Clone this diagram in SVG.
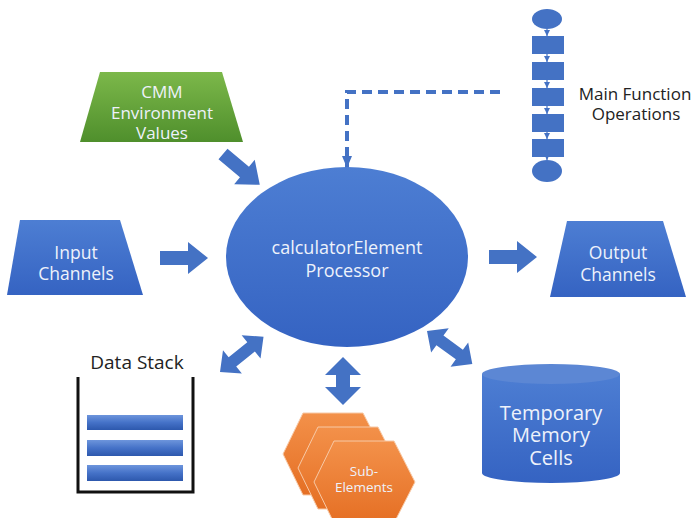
<svg xmlns="http://www.w3.org/2000/svg" width="696" height="518" viewBox="0 0 696 518">
<defs>
<linearGradient id="gBlue" x1="0" y1="0" x2="0" y2="1">
<stop offset="0" stop-color="#4d7ed3"/>
<stop offset="1" stop-color="#3563c2"/>
</linearGradient>
<linearGradient id="gGreen" x1="0" y1="0" x2="0" y2="1">
<stop offset="0" stop-color="#7cb84a"/>
<stop offset="1" stop-color="#4f8f2c"/>
</linearGradient>
<linearGradient id="gOrange" x1="0" y1="0" x2="0" y2="1">
<stop offset="0" stop-color="#f3914a"/>
<stop offset="1" stop-color="#e56f24"/>
</linearGradient>
<linearGradient id="gBar" x1="0" y1="0" x2="0" y2="1">
<stop offset="0" stop-color="#6d95dc"/>
<stop offset="0.5" stop-color="#4572c8"/>
<stop offset="1" stop-color="#2d58ad"/>
</linearGradient>
<marker id="mDash" viewBox="0 0 12 10" refX="12" refY="5" markerWidth="12" markerHeight="10" markerUnits="userSpaceOnUse" orient="auto">
<path d="M0,0 L12,5 L0,10 Z" fill="#4472c4"/>
</marker>
<marker id="mSmall" viewBox="0 0 6 6" refX="6" refY="3" markerWidth="6" markerHeight="6" markerUnits="userSpaceOnUse" orient="auto">
<path d="M0,0 L6,3 L0,6 Z" fill="#4472c4"/>
</marker>
<path id="arrow1" d="M0,-7 H28 V-16 L48,0 L28,16 V7 H0 Z"/>
<polygon id="hex" points="20,0 80,0 101,41 80,82 20,82 0,41"/>
</defs>
<style>
.lbl{font-family:"Open Sans","Liberation Sans",sans-serif;fill:#eef2fb;text-anchor:middle}
.dark{font-family:"Open Sans","Liberation Sans",sans-serif;fill:#222;text-anchor:middle}
.blk{fill:#4472c4}
.hexs{fill:url(#gOrange);stroke:#f7c9a6;stroke-width:1}
</style>

<g id="connectors">
<path d="M500,92 H347 V168" fill="none" stroke="#4472c4" stroke-width="4" stroke-dasharray="10,6" marker-end="url(#mDash)"/>
<use href="#arrow1" class="blk" transform="translate(223,154) rotate(40)"/>
<use href="#arrow1" class="blk" transform="translate(160,258)"/>
<use href="#arrow1" class="blk" transform="translate(489,257)"/>
<path class="blk" d="M0,0 L16,-15 V-6 H40 V-15 L56,0 L40,15 V6 H16 V15 Z" transform="translate(220,372) rotate(-39)"/>
<path class="blk" d="M0,0 L16,-15 V-6 H40 V-15 L56,0 L40,15 V6 H16 V15 Z" transform="translate(427,331) rotate(36)"/>
<path class="blk" d="M0,0 L18,-18 V-7 H30 V-18 L48,0 L30,18 V7 H18 V18 Z" transform="translate(343,357) rotate(90)"/>
</g>

<g id="main-function-operations">
<ellipse cx="547" cy="19" rx="15" ry="10" class="blk"/>
<rect x="532" y="36" width="32" height="18" class="blk"/>
<rect x="532" y="62" width="32" height="18" class="blk"/>
<rect x="532" y="88" width="32" height="18" class="blk"/>
<rect x="532" y="114" width="32" height="18" class="blk"/>
<rect x="532" y="139" width="32" height="18" class="blk"/>
<ellipse cx="547" cy="171" rx="15" ry="11" class="blk"/>
<g stroke="#4472c4" stroke-width="1.2" marker-end="url(#mSmall)">
<line x1="547" y1="29" x2="547" y2="36"/>
<line x1="547" y1="54" x2="547" y2="62"/>
<line x1="547" y1="80" x2="547" y2="88"/>
<line x1="547" y1="106" x2="547" y2="114"/>
<line x1="547" y1="132" x2="547" y2="139"/>
<line x1="547" y1="157" x2="547" y2="160"/>
</g>
<text class="dark" x="635" y="100" font-size="17">Main Function</text>
<text class="dark" x="636" y="120" font-size="17">Operations</text>
</g>

<g id="cmm-environment">
<polygon points="100,72 222,72 243,142 80,142" fill="url(#gGreen)"/>
<text class="lbl" x="162" y="98" font-size="17">CMM</text>
<text class="lbl" x="162" y="119" font-size="17">Environment</text>
<text class="lbl" x="162" y="139" font-size="17">Values</text>
</g>

<g id="input-channels">
<polygon points="20,220 120,220 143,295 7,295" fill="url(#gBlue)"/>
<text class="lbl" x="76" y="259" font-size="17.5">Input</text>
<text class="lbl" x="76" y="280" font-size="17.5">Channels</text>
</g>

<g id="processor">
<ellipse cx="347" cy="257" rx="121" ry="90" fill="url(#gBlue)"/>
<text class="lbl" x="347" y="254" font-size="18">calculatorElement</text>
<text class="lbl" x="347" y="277" font-size="18">Processor</text>
</g>

<g id="output-channels">
<polygon points="567,221 663,221 686,297 550,297" fill="url(#gBlue)"/>
<text class="lbl" x="618" y="259" font-size="17.5">Output</text>
<text class="lbl" x="618" y="281" font-size="17.5">Channels</text>
</g>

<g id="data-stack">
<text class="dark" x="137" y="369" font-size="19">Data Stack</text>
<path d="M78,377 V492 H193 V377" fill="none" stroke="#111" stroke-width="3"/>
<rect x="87" y="415" width="96" height="15" fill="url(#gBar)"/>
<rect x="87" y="440" width="96" height="16" fill="url(#gBar)"/>
<rect x="87" y="465" width="96" height="16" fill="url(#gBar)"/>
</g>

<g id="sub-elements">
<use href="#hex" class="hexs" transform="translate(283,413)"/>
<use href="#hex" class="hexs" transform="translate(298,427)"/>
<use href="#hex" class="hexs" transform="translate(314,441)"/>
<text class="lbl" x="364" y="476" font-size="13.5">Sub-</text>
<text class="lbl" x="364" y="492" font-size="13.5">Elements</text>
</g>

<g id="temporary-memory">
<path d="M482,374 V473 A69,10 0 0 0 620,473 V374 Z" fill="url(#gBlue)"/>
<ellipse cx="551" cy="374" rx="69" ry="10" fill="#5c87d4"/>
<text class="lbl" x="551" y="420" font-size="20">Temporary</text>
<text class="lbl" x="551" y="442" font-size="20">Memory</text>
<text class="lbl" x="551" y="465" font-size="20">Cells</text>
</g>
</svg>
